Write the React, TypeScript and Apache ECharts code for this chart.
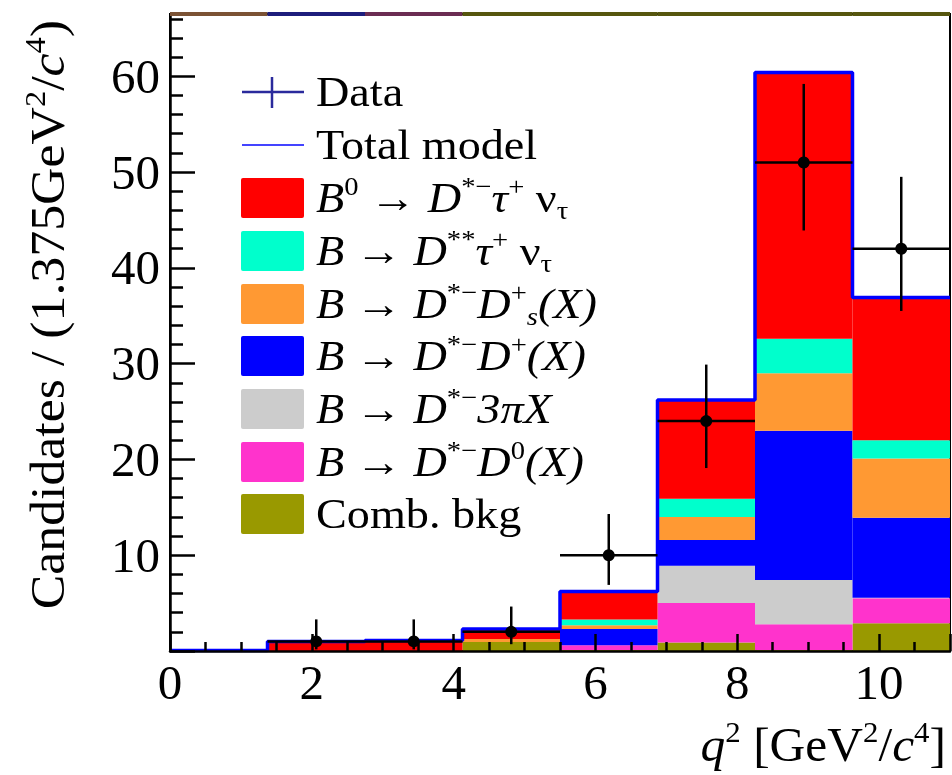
import React, { useEffect, useRef } from 'react';
import * as echarts from 'echarts';

// ---- data ----
const binEdges = [0, 1.375, 2.75, 4.125, 5.5, 6.875, 8.25, 9.625, 11];
// stacked components, bottom to top
const combBkg = [0, 0, 0, 0.95, 0.1, 0.9, 0.1, 2.9];
const dstarD0 = [0, 0, 0, 0, 0.5, 4.1, 2.7, 2.6];
const dstar3pi = [0, 0, 0, 0, 0, 3.9, 4.6, 0.05];
const dstarDplus = [0, 0, 0, 0, 1.7, 2.7, 15.6, 8.35];
const dstarDs = [0, 0, 0, 0.3, 0.4, 2.4, 6.0, 6.2];
const dstarstarTau = [0, 0, 0, 0, 0.6, 1.9, 3.6, 1.9];
const signalTau = [0.05, 1.0, 1.1, 1.05, 2.9, 10.3, 27.8, 14.9];
// data points
const dataCounts = [null, 1, 1, 2, 10, 24, 51, 42];
const dataLow = [null, 0.17, 0.17, 0.71, 6.9, 19.1, 43.9, 35.5];
const dataHigh = [null, 3.3, 3.3, 4.64, 14.3, 29.9, 59.2, 49.5];

const componentNames = [
  'Comb. bkg',
  'B → D*− D0(X)',
  'B → D*− 3πX',
  'B → D*− D+(X)',
  'B → D*− Ds+(X)',
  'B → D** τ+ ντ',
  'B0 → D*− τ+ ντ',
];
const componentValues = [combBkg, dstarD0, dstar3pi, dstarDplus, dstarDs, dstarstarTau, signalTau];
const componentColors = ['#999900', '#ff33cc', '#cccccc', '#0000ff', '#ff9933', '#00ffcc', '#ff0000'];

const yTickLabels = ['', '10', '20', '30', '40', '50', '60'];

const SERIF = 'Liberation Serif';

const legendEntries = [
  { kind: 'data', color: '#2a2a9c', text: '{n|Data}' },
  { kind: 'line', color: '#4444ff', text: '{n|Total model}' },
  { kind: 'box', color: '#ff0000', text: '{it|B}{sup|0}{n| → }{it|D}{sup|*−}{it|τ}{sup|+}{n| ν}{sub|τ}' },
  { kind: 'box', color: '#00ffcc', text: '{it|B}{n| → }{it|D}{sup|**}{it|τ}{sup|+}{n| ν}{sub|τ}' },
  { kind: 'box', color: '#ff9933', text: '{it|B}{n| → }{it|D}{sup|*−}{it|D}{sup|+}{subi|s}{it|(X)}' },
  { kind: 'box', color: '#0000ff', text: '{it|B}{n| → }{it|D}{sup|*−}{it|D}{sup|+}{it|(X)}' },
  { kind: 'box', color: '#cccccc', text: '{it|B}{n| → }{it|D}{sup|*−}{it|3πX}' },
  { kind: 'box', color: '#ff33cc', text: '{it|B}{n| → }{it|D}{sup|*−}{it|D}{sup|0}{it|(X)}' },
  { kind: 'box', color: '#999900', text: '{n|Comb. bkg}' },
];

function rich(F: number) {
  const s = Math.round(F * 0.62);
  return {
    n: { fontFamily: SERIF, fontSize: F, lineHeight: F + 8, verticalAlign: 'middle', fill: '#000', color: '#000' },
    it: { fontFamily: SERIF, fontSize: F, fontStyle: 'italic', lineHeight: F + 8, verticalAlign: 'middle', fill: '#000', color: '#000' },
    sup: { fontFamily: SERIF, fontSize: s, lineHeight: s + 4, verticalAlign: 'top', fill: '#000', color: '#000' },
    supi: { fontFamily: SERIF, fontSize: s, fontStyle: 'italic', lineHeight: s + 4, verticalAlign: 'top', fill: '#000', color: '#000' },
    sub: { fontFamily: SERIF, fontSize: s, lineHeight: s + 2, verticalAlign: 'bottom', fill: '#000', color: '#000' },
    subi: { fontFamily: SERIF, fontSize: s, fontStyle: 'italic', lineHeight: s + 2, verticalAlign: 'bottom', fill: '#000', color: '#000' },
  };
}

export default function App() {
  const ref = useRef<HTMLDivElement>(null);
  useEffect(() => {
    if (!ref.current) return;
    const chart = echarts.init(ref.current, null, { renderer: 'svg' });
    const nBins = binEdges.length - 1;

    // stacked rectangles
    const base = new Array(nBins).fill(0);
    const stackSeries: any[] = componentValues.map((vals, ci) => {
      const data = vals.map((v, i) => {
        const lo = base[i];
        const hi = lo + v;
        base[i] = hi;
        return [binEdges[i], binEdges[i + 1], lo, hi];
      });
      const color = componentColors[ci];
      return {
        type: 'custom',
        name: componentNames[ci],
        coordinateSystem: 'cartesian2d',
        encode: { x: [0, 1], y: [2, 3] },
        data,
        z: 2,
        silent: true,
        renderItem: (params: any, api: any) => {
          const p0 = api.coord([api.value(0), api.value(3)]);
          const p1 = api.coord([api.value(1), api.value(2)]);
          return {
            type: 'rect',
            shape: { x: p0[0], y: p0[1], width: p1[0] - p0[0], height: p1[1] - p0[1] },
            style: { fill: color },
          };
        },
      };
    });
    const totals = base.slice();
    const totalData = totals.map((t, i) => [binEdges[i], t]);
    totalData.push([binEdges[nBins], totals[nBins - 1]]);

    const pointData: any[] = [];
    dataCounts.forEach((c, i) => {
      if (c === null) return;
      pointData.push([(binEdges[i] + binEdges[i + 1]) / 2, c, dataLow[i], dataHigh[i], binEdges[i], binEdges[i + 1]]);
    });

    const option: any = {
      animation: false,
      grid: { left: 170, right: 2, top: 14, bottom: 124, show: true, borderColor: '#000', borderWidth: 2 },
      xAxis: {
        type: 'value', min: 0, max: 11, interval: 2, z: 10,
        axisLine: { lineStyle: { color: '#000', width: 2.5 } },
        axisTick: { inside: true, length: 17, lineStyle: { color: '#000', width: 2.5 } },
        minorTick: { show: true, splitNumber: 4, length: 9, lineStyle: { color: '#000', width: 2.5 } },
        splitLine: { show: false },
        axisLabel: { showMaxLabel: false, fontFamily: SERIF, fontSize: 49, color: '#000', margin: 7 },
      },
      yAxis: {
        type: 'value', min: 0, max: 66.5, interval: 10, z: 10,
        axisLine: { lineStyle: { color: '#000', width: 2.5 } },
        axisTick: { inside: true, length: 25, lineStyle: { color: '#000', width: 2.5 } },
        minorTick: { show: true, splitNumber: 5, length: 13, lineStyle: { color: '#000', width: 2.5 } },
        splitLine: { show: false },
        axisLabel: {
          showMaxLabel: false, fontFamily: SERIF, fontSize: 49, color: '#000', margin: 10,
          formatter: (v: number) => yTickLabels[Math.round(v / 10)] ?? '',
        },
      },
      series: [
        ...stackSeries,
        {
          type: 'line', name: 'Total model', step: 'end', data: totalData, symbol: 'none', showSymbol: false,
          lineStyle: { color: '#0000ff', width: 3.5 }, z: 3, silent: true,
        },
        {
          type: 'custom', name: 'Data', coordinateSystem: 'cartesian2d', encode: { x: [0, 4, 5], y: [1, 2, 3] },
          data: pointData, z: 4, silent: true,
          renderItem: (params: any, api: any) => {
            const c = api.coord([api.value(0), api.value(1)]);
            const lo = api.coord([api.value(0), api.value(2)]);
            const hi = api.coord([api.value(0), api.value(3)]);
            const l = api.coord([api.value(4), api.value(1)]);
            const r = api.coord([api.value(5), api.value(1)]);
            const st = { stroke: '#000', lineWidth: 2.5 };
            return {
              type: 'group',
              children: [
                { type: 'line', shape: { x1: l[0], y1: c[1], x2: r[0], y2: c[1] }, style: st },
                { type: 'line', shape: { x1: c[0], y1: lo[1], x2: c[0], y2: hi[1] }, style: st },
                { type: 'circle', shape: { cx: c[0], cy: c[1], r: 6 }, style: { fill: '#000' } },
              ],
            };
          },
        },
      ],
    };
    chart.setOption(option);

    const px = (x: number, y: number) => chart.convertToPixel({ gridIndex: 0 }, [x, y]) as number[];
    const topY = px(0, 66.5)[1];
    const topColors = ['#7b5234', '#1d1d7c', '#6b2c52', '#56560e', '#56560e', '#56560e', '#56560e', '#56560e'];
    const graphics: any[] = [];
    for (let i = 0; i < nBins; i++) {
      const x0 = px(binEdges[i], 0)[0];
      const x1 = px(binEdges[i + 1], 0)[0];
      graphics.push({ type: 'rect', z: 100, shape: { x: x0, y: topY - 2, width: x1 - x0, height: 4 }, style: { fill: topColors[i] } });
    }

    const legendY = [92, 145, 198, 251, 304, 356, 409, 462, 514];
    const LR = rich(42);
    legendEntries.forEach((e, i) => {
      const cy = legendY[i];
      if (e.kind === 'data') {
        graphics.push({ type: 'line', z: 100, shape: { x1: 242, y1: cy, x2: 304, y2: cy }, style: { stroke: e.color, lineWidth: 2.5 } });
        graphics.push({ type: 'line', z: 100, shape: { x1: 272, y1: cy - 15, x2: 272, y2: cy + 16 }, style: { stroke: e.color, lineWidth: 2.5 } });
      } else if (e.kind === 'line') {
        graphics.push({ type: 'line', z: 100, shape: { x1: 242, y1: cy, x2: 304, y2: cy }, style: { stroke: e.color, lineWidth: 2 } });
      } else {
        graphics.push({ type: 'rect', z: 100, shape: { x: 241, y: cy - 20, width: 63, height: 40, r: 2 }, style: { fill: e.color } });
      }
      graphics.push({
        type: 'text', z: 100, x: 316, y: cy, scaleX: 1.1,
        style: { text: e.text, rich: LR, verticalAlign: 'middle', align: 'left', fill: '#000' },
      });
    });

    // axis titles
    graphics.push({
      type: 'text', z: 100, x: 48, y: 20, rotation: Math.PI / 2, scaleX: 1.08,
      style: {
        text: '{n|Candidates / (1.375GeV}{sup|2}{n|/}{it|c}{sup|4}{n|)}',
        rich: rich(48), align: 'right', verticalAlign: 'middle', fill: '#000',
      },
    });
    graphics.push({
      type: 'text', z: 100, x: 946, y: 745, scaleX: 1.03,
      style: {
        text: '{it|q}{sup|2}{n| [GeV}{sup|2}{n|/}{it|c}{sup|4}{n|]}',
        rich: rich(48), align: 'right', verticalAlign: 'middle', fill: '#000',
      },
    });
    chart.setOption({ graphic: graphics });

    return () => chart.dispose();
  }, []);
  return <div ref={ref} style={{ position: 'fixed', left: 0, top: 0, width: 952, height: 775 }} />;
}
